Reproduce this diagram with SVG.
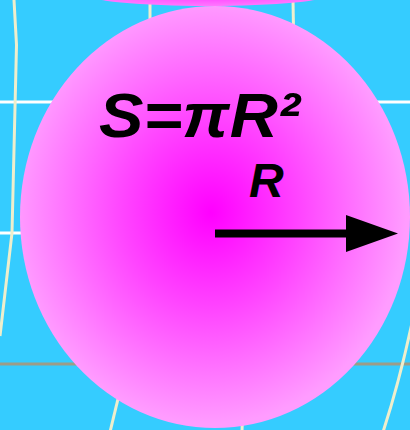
<svg xmlns="http://www.w3.org/2000/svg" width="410" height="430" viewBox="0 0 410 430">
  <defs>
    <radialGradient id="ball" cx="0.49" cy="0.49" r="0.5">
      <stop offset="0" stop-color="#ff00ff"/>
      <stop offset="0.45" stop-color="#ff44ff"/>
      <stop offset="1" stop-color="#ff9cff"/>
    </radialGradient>
    <radialGradient id="topball" cx="0.5" cy="0.5" r="0.5">
      <stop offset="0" stop-color="#ff33ff"/>
      <stop offset="1" stop-color="#ff77ff"/>
    </radialGradient>
    <marker id="head" viewBox="0 0 52 37" refX="0" refY="18.5" markerWidth="52" markerHeight="37" markerUnits="userSpaceOnUse" orient="auto">
      <path d="M0,0 L52,18.5 L0,37 Z" fill="#000"/>
    </marker>
    <style>
      .cream { fill: none; stroke: #eeeecc; stroke-width: 3; }
      .white { fill: none; stroke: #ffffff; stroke-width: 3; }
      .grey { fill: none; stroke: #9c9c88; stroke-width: 3; }
      .label { font-family: "Liberation Sans", Arial, sans-serif; font-weight: bold; font-style: italic; fill: #000; }
    </style>
  </defs>
  <rect id="background" x="0" y="0" width="410" height="430" fill="#35ccff"/>
  <g id="grid">
    <line class="white" x1="0" y1="102" x2="410" y2="102"/>
    <line class="white" x1="0" y1="233" x2="60" y2="233"/>
    <line class="grey" x1="0" y1="364" x2="410" y2="364"/>
    <path class="cream" d="M14,0 L16.5,45 L12,233 L0,336"/>
    <line class="cream" x1="150" y1="0" x2="150" y2="60"/>
    <line class="cream" x1="293" y1="0" x2="294" y2="60"/>
    <line class="cream" x1="125" y1="370" x2="110" y2="432"/>
    <line class="cream" x1="243" y1="400" x2="242" y2="432"/>
    <path class="cream" d="M413,318 Q400,380 383,432"/>
  </g>
  <ellipse id="top-ball" cx="208" cy="-6" rx="123" ry="12" fill="url(#topball)"/>
  <g id="sphere">
    <ellipse cx="215" cy="217" rx="195" ry="211" fill="url(#ball)"/>
  </g>
  <g id="formula">
    <text class="label" x="99" y="137" font-size="63" textLength="201" lengthAdjust="spacingAndGlyphs">S=πR²</text>
  </g>
  <g id="connectors">
    <line x1="215" y1="233.5" x2="346" y2="233.5" stroke="#000" stroke-width="8" marker-end="url(#head)"/>
  </g>
  <g id="radius-label">
    <text class="label" x="249" y="197" font-size="48">R</text>
  </g>
</svg>
